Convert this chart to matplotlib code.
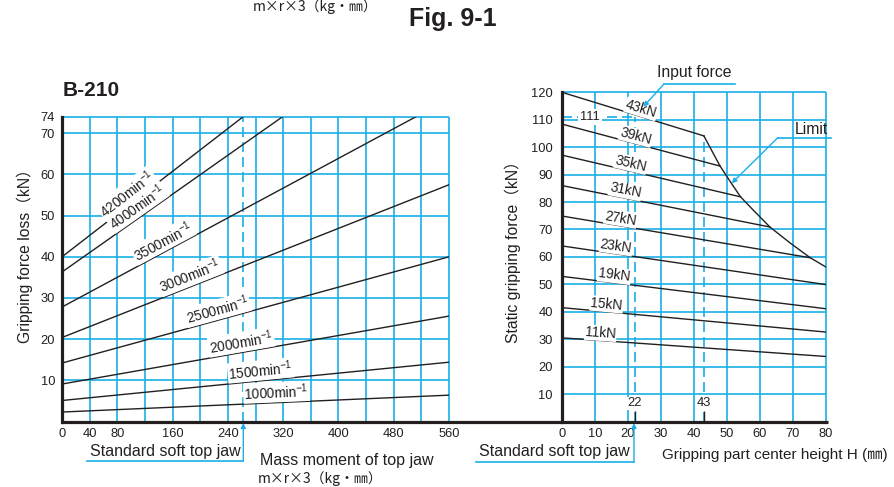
import numpy as np
import matplotlib.pyplot as plt

plt.rcParams['font.family'] = ['Liberation Sans', 'Noto Sans CJK JP', 'DejaVu Sans']
plt.rcParams['mathtext.fontset'] = 'custom'
plt.rcParams['mathtext.rm'] = 'Liberation Sans'
plt.rcParams['mathtext.default'] = 'regular'

BLUE = '#1aafe6'
INK = '#231f20'
W, H = 894, 487
CJK = ['Noto Sans CJK JP', 'DejaVu Sans']

# left chart: gripping force loss (kN) vs mass moment of top jaw
speeds = [4200, 4000, 3500, 3000, 2500, 2000, 1500, 1000]
loss_at_zero = [40.0, 36.3, 27.8, 20.4, 14.2, 9.1, 5.1, 2.3]
mass_end = [262, 319, 512, 560, 560, 560, 560, 560]
loss_at_end = [74.0, 74.0, 74.0, 57.5, 40.0, 25.6, 14.4, 6.4]
speed_label_at = [103, 117, 153, 191, 229, 262, 289, 311]
mass_ticks = [0, 40, 80, 160, 240, 320, 400, 480, 560]
mass_grid = [0, 40, 80, 120, 160, 200, 240, 280, 320, 360, 400, 440, 480, 520, 560]
loss_ticks = [10, 20, 30, 40, 50, 60, 70, 74]
std_jaw_mass = 262

# right chart: static gripping force (kN) vs gripping part center height H
input_force = [43, 39, 35, 31, 27, 23, 19, 15, 11]
grip_at_zero = [120.0, 108.4, 97.1, 86.0, 74.9, 64.0, 52.9, 41.5, 30.5]
height_end = [43, 47.9, 54.1, 63.0, 75.2, 80, 80, 80, 80]
grip_at_end = [104.1, 93.1, 81.9, 70.9, 59.7, 49.9, 41.1, 32.6, 23.7]
force_label_at = [23.4, 21.8, 20.3, 18.8, 17.4, 16.1, 15.6, 13.3, 11.5]
limit_h = [43, 47.9, 51.4, 54.1, 58.0, 63.0, 69.1, 75.2, 80]
limit_f = [104.1, 93.1, 86.7, 81.9, 77.0, 70.9, 65.1, 59.7, 56.3]
height_ticks = [0, 10, 20, 30, 40, 50, 60, 70, 80]
grip_ticks = [10, 20, 30, 40, 50, 60, 70, 80, 90, 100, 110, 120]
std_jaw_height = 22
std_jaw_grip = 111
rated_height = 43


def box(x0, y0, x1, y1):
    # pixel box (y down) -> figure fraction
    return [x0 / W, (H - y1) / H, (x1 - x0) / W, (y1 - y0) / H]


def line_label(ax, x0, y0, x1, y1, at, text, up):
    y = y0 + (y1 - y0) * (at - x0) / (x1 - x0)
    p0 = ax.transData.transform((x0, y0))
    p1 = ax.transData.transform((x1, y1))
    ang = np.degrees(np.arctan2(p1[1] - p0[1], p1[0] - p0[0]))
    r = np.radians(ang)
    ax.annotate(text, (at, y), xytext=(-up * np.sin(r), up * np.cos(r)),
                textcoords='offset points', rotation=ang, rotation_mode='anchor',
                ha='center', va='bottom', fontsize=9.8, color=INK, zorder=4,
                bbox=dict(fc='white', ec='none', pad=0.6))


fig = plt.figure(figsize=(W / 100, H / 100), dpi=100)

# ---------------- left chart ----------------
ax1 = fig.add_axes(box(62, 116.8, 449, 421.5))
ax1.set_xlim(0, 560)
ax1.set_ylim(0, 74)
ax1.vlines(mass_grid, 0, 74, color=BLUE, lw=1.2, zorder=1, clip_on=False)
ax1.hlines(loss_ticks, 0, 560, color=BLUE, lw=1.2, zorder=1, clip_on=False)
ax1.vlines(std_jaw_mass, 0, 74, color=BLUE, lw=1.2, ls=(0, (6, 3)), zorder=1)
for n, y0, x1, y1, at in zip(speeds, loss_at_zero, mass_end, loss_at_end, speed_label_at):
    ax1.plot([0, x1], [y0, y1], color=INK, lw=1.0, zorder=2)
    line_label(ax1, 0, y0, x1, y1, at, f'{n}min$^{{-1}}$', 0.8)
ax1.set_xticks(mass_ticks)
ax1.set_yticks(loss_ticks)
ax1.tick_params(length=0, labelsize=9.3, colors=INK, pad=5)
for s in ['top', 'right', 'bottom']:
    ax1.spines[s].set_visible(False)
ax1.spines['left'].set_linewidth(2.3)
ax1.spines['left'].set_color(INK)

# ---------------- right chart ----------------
ax2 = fig.add_axes(box(562, 92.3, 826, 421.5))
ax2.set_xlim(0, 80)
ax2.set_ylim(0, 120)
ax2.vlines(height_ticks, 0, 120, color=BLUE, lw=1.2, zorder=1, clip_on=False)
ax2.hlines(grip_ticks, 0, 80, color=BLUE, lw=1.2, zorder=1, clip_on=False)
ax2.vlines(std_jaw_height, 0, std_jaw_grip, color=BLUE, lw=1.2, ls=(0, (6, 3)), zorder=1)
ax2.hlines(std_jaw_grip, 0, std_jaw_height, color=BLUE, lw=1.2, ls=(0, (6, 3)), zorder=1)
ax2.vlines(rated_height, 0, grip_at_end[0], color=BLUE, lw=1.2, ls=(0, (6, 3)), zorder=1)
for p, y0, x1, y1, at in zip(input_force, grip_at_zero, height_end, grip_at_end, force_label_at):
    ax2.plot([0, x1], [y0, y1], color=INK, lw=1.0, zorder=2)
    line_label(ax2, 0, y0, x1, y1, at, f'{p}kN', 0.3)
ax2.plot(limit_h, limit_f, color=INK, lw=1.0, zorder=2)
ax2.vlines([std_jaw_height, rated_height], 0, 4, color=INK, lw=1.0, zorder=3)
ax2.text(std_jaw_height, 6.6, str(std_jaw_height), ha='center', va='center',
         fontsize=9.3, color=INK, zorder=4, bbox=dict(fc='white', ec='none', pad=0.5))
ax2.text(rated_height, 6.6, str(rated_height), ha='center', va='center',
         fontsize=9.3, color=INK, zorder=4, bbox=dict(fc='white', ec='none', pad=0.5))
ax2.text(8.5, std_jaw_grip, str(std_jaw_grip), ha='center', va='center',
         fontsize=9.3, color=INK, zorder=4, bbox=dict(fc='white', ec='none', pad=1.5))
ax2.set_xticks(height_ticks)
ax2.set_yticks(grip_ticks)
ax2.tick_params(length=0, labelsize=9.3, colors=INK, pad=5)
ax2.tick_params(axis='y', pad=6.5)
for s in ['top', 'right', 'bottom']:
    ax2.spines[s].set_visible(False)
ax2.spines['left'].set_linewidth(2.3)
ax2.spines['left'].set_color(INK)

# ---------------- overlay: titles, labels, callouts ----------------
ov = fig.add_axes([0, 0, 1, 1], zorder=5)
ov.set_xlim(0, W)
ov.set_ylim(H, 0)
ov.axis('off')

ov.plot([61, 828], [421.5, 421.5], color=INK, lw=2.3, solid_capstyle='butt')

ov.text(453, 19, 'Fig. 9-1', ha='center', va='center', fontsize=18, fontweight='bold', color=INK)
ov.text(253, 11, 'm×r×3（kg・㎜）', ha='left', va='baseline', fontsize=10, color=INK, family=CJK)
ov.text(63, 90, 'B-210', ha='left', va='center', fontsize=15, fontweight='bold', color=INK)

ov.text(25, 252, 'Gripping force loss（kN）', rotation=90, ha='center', va='center',
        fontsize=11.3, color=INK)
ov.text(513, 248, 'Static gripping force（kN）', rotation=90, ha='center', va='center',
        fontsize=11.3, color=INK)

ov.text(260, 460, 'Mass moment of top jaw', ha='left', va='center', fontsize=11.5, color=INK)
ov.text(258, 479, 'm×r×3（kg・㎜）', ha='left', va='center', fontsize=10, color=INK, family=CJK)
ov.text(662, 455.5, 'Gripping part center height H (㎜)', ha='left', va='center',
        fontsize=11, color=INK)

arrow = dict(arrowstyle='-|>', color=BLUE, lw=1.0, mutation_scale=7, shrinkA=0, shrinkB=0)

# standard soft top jaw callouts
ov.text(90, 451.5, 'Standard soft top jaw', ha='left', va='center', fontsize=11.5, color=INK)
ov.plot([87, 243.3], [461, 461], color=BLUE, lw=1.2)
ov.annotate('', xy=(243.3, 423), xytext=(243.3, 461), arrowprops=arrow)
ov.text(479, 451.5, 'Standard soft top jaw', ha='left', va='center', fontsize=11.5, color=INK)
ov.plot([476, 634], [462, 462], color=BLUE, lw=1.2)
ov.annotate('', xy=(634, 423), xytext=(634, 462), arrowprops=arrow)

# input force / limit callouts
ov.text(657, 73, 'Input force', ha='left', va='center', fontsize=11.3, color=INK)
ov.plot([664, 735], [84, 84], color=BLUE, lw=1.2)
ov.annotate('', xy=(643.3, 106.7), xytext=(664, 84), arrowprops=arrow)
ov.text(795, 130, 'Limit', ha='left', va='center', fontsize=11.3, color=INK)
ov.plot([778, 831], [137.5, 137.5], color=BLUE, lw=1.2)
ov.annotate('', xy=(731.7, 183.3), xytext=(778, 137.5), arrowprops=arrow)

fig.savefig('out.png', dpi=100)
